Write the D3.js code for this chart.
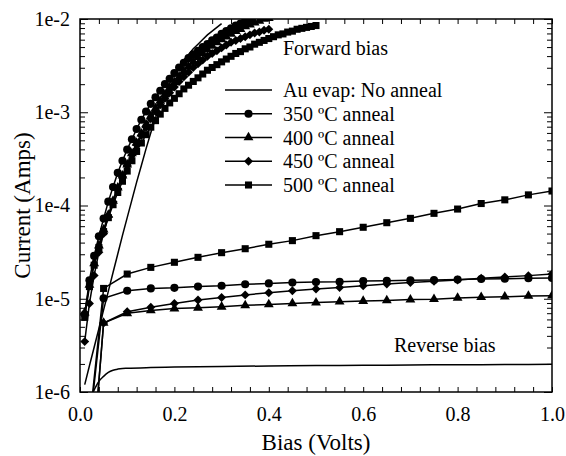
<!DOCTYPE html>
<html>
<head>
<meta charset="utf-8">
<script src="https://cdn.jsdelivr.net/npm/d3@7"></script>
<style>
  body { margin: 0; background: #fff; }
  svg text { font-family: "Liberation Serif", "DejaVu Serif", serif; fill: #000; }
</style>
</head>
<body>
<svg id="iv_plot" width="566" height="456"></svg>
<script>
// Forward bias sweep (Volts)
const fwdBias = [0.01, 0.02, 0.03, 0.04, 0.05, 0.06, 0.07, 0.08, 0.09, 0.10,
    0.11, 0.12, 0.13, 0.14, 0.15, 0.16, 0.17, 0.18, 0.19, 0.20,
    0.21, 0.22, 0.23, 0.24, 0.25, 0.26, 0.27, 0.28, 0.29, 0.30,
    0.31, 0.32, 0.33, 0.34, 0.35, 0.36, 0.37, 0.38, 0.39, 0.40,
    0.41, 0.42, 0.43, 0.44, 0.45, 0.46, 0.47, 0.48, 0.49, 0.50];
// Reverse bias sweep (Volts, magnitude)
const revBias = [0.0, 0.05, 0.10, 0.15, 0.20, 0.25, 0.30, 0.35, 0.40, 0.45, 0.50,
    0.55, 0.60, 0.65, 0.70, 0.75, 0.80, 0.85, 0.90, 0.95, 1.0];
const auRevBias = [0.0, 0.02, 0.03, 0.04, 0.05, 0.06, 0.07, 0.08, 0.09, 0.10,
    0.15, 0.20, 0.30, 0.40, 0.50, 0.60, 0.70, 0.80, 0.90, 1.0];

// Currents (Amps)
const auFwd = [1.20e-6, 1.91e-6, 3.02e-6, 4.79e-6, 7.59e-6, 1.20e-5, 1.91e-5, 3.02e-5, 4.79e-5, 7.41e-5,
    1.15e-4, 1.78e-4, 2.69e-4, 4.07e-4, 6.03e-4, 8.71e-4, 1.20e-3, 1.58e-3, 2.04e-3, 2.57e-3,
    3.09e-3, 3.63e-3, 4.17e-3, 4.79e-3, 5.37e-3, 6.03e-3, 6.76e-3, 7.41e-3, 8.13e-3, 8.91e-3];
const auRev = [2e-7, 8e-7, 1.05e-6, 1.3e-6, 1.47e-6, 1.62e-6, 1.71e-6, 1.76e-6, 1.79e-6, 1.80e-6,
    1.83e-6, 1.85e-6, 1.88e-6, 1.90e-6, 1.92e-6, 1.93e-6, 1.95e-6, 1.96e-6, 1.97e-6, 1.98e-6];

const fwd350 = [6.8e-6, 1.58e-5, 2.88e-5, 4.68e-5, 7.24e-5, 1.10e-4, 1.58e-4, 2.24e-4, 3.02e-4, 3.98e-4,
    5.13e-4, 6.61e-4, 8.32e-4, 1.02e-3, 1.23e-3, 1.45e-3, 1.70e-3, 2.00e-3, 2.29e-3, 2.63e-3,
    3.02e-3, 3.39e-3, 3.80e-3, 4.17e-3, 4.57e-3, 5.01e-3, 5.37e-3, 5.89e-3, 6.31e-3, 6.92e-3,
    7.41e-3, 7.94e-3, 8.51e-3, 8.91e-3, 9.55e-3, 1.0e-2];
const fwd400 = [7.1e-6, 1.41e-5, 2.40e-5, 3.72e-5, 5.50e-5, 7.94e-5, 1.12e-4, 1.55e-4, 2.09e-4, 2.75e-4,
    3.63e-4, 4.68e-4, 5.89e-4, 7.41e-4, 9.12e-4, 1.10e-3, 1.32e-3, 1.55e-3, 1.82e-3, 2.09e-3,
    2.40e-3, 2.75e-3, 3.09e-3, 3.47e-3, 3.89e-3, 4.27e-3, 4.68e-3, 5.13e-3, 5.62e-3, 6.03e-3,
    6.46e-3, 6.92e-3, 7.41e-3, 7.76e-3, 8.32e-3, 8.71e-3, 9.12e-3, 9.55e-3, 1.0e-2, 1.02e-2];
const fwd450 = [3.47e-6, 8.91e-6, 1.78e-5, 3.16e-5, 5.01e-5, 7.59e-5, 1.10e-4, 1.51e-4, 2.04e-4, 2.69e-4,
    3.47e-4, 4.47e-4, 5.62e-4, 6.92e-4, 8.51e-4, 1.02e-3, 1.20e-3, 1.41e-3, 1.62e-3, 1.86e-3,
    2.14e-3, 2.40e-3, 2.69e-3, 3.02e-3, 3.31e-3, 3.63e-3, 3.98e-3, 4.27e-3, 4.57e-3, 4.90e-3,
    5.25e-3, 5.62e-3, 5.89e-3, 6.17e-3, 6.46e-3, 6.76e-3, 7.08e-3, 7.24e-3, 7.59e-3, 7.76e-3];
const fwd500 = [6.31e-6, 1.35e-5, 2.29e-5, 3.55e-5, 5.25e-5, 7.41e-5, 1.02e-4, 1.38e-4, 1.82e-4, 2.34e-4,
    3.02e-4, 3.80e-4, 4.68e-4, 5.75e-4, 6.92e-4, 8.13e-4, 9.55e-4, 1.10e-3, 1.26e-3, 1.41e-3,
    1.58e-3, 1.78e-3, 1.95e-3, 2.14e-3, 2.34e-3, 2.57e-3, 2.82e-3, 3.02e-3, 3.24e-3, 3.47e-3,
    3.72e-3, 3.98e-3, 4.27e-3, 4.47e-3, 4.79e-3, 5.01e-3, 5.37e-3, 5.62e-3, 5.89e-3, 6.17e-3,
    6.46e-3, 6.76e-3, 6.92e-3, 7.24e-3, 7.41e-3, 7.76e-3, 7.94e-3, 8.13e-3, 8.32e-3, 8.51e-3];

const rev350 = [5e-8, 1.01e-5, 1.22e-5, 1.29e-5, 1.31e-5, 1.35e-5, 1.38e-5, 1.43e-5, 1.46e-5, 1.49e-5, 1.51e-5,
    1.52e-5, 1.55e-5, 1.56e-5, 1.58e-5, 1.59e-5, 1.61e-5, 1.63e-5, 1.64e-5, 1.66e-5, 1.67e-5];
const rev400 = [4e-9, 5.5e-6, 6.98e-6, 7.5e-6, 7.85e-6, 8.0e-6, 8.2e-6, 8.5e-6, 8.7e-6, 8.9e-6, 9.1e-6,
    9.3e-6, 9.45e-6, 9.6e-6, 9.8e-6, 9.9e-6, 1.02e-5, 1.04e-5, 1.05e-5, 1.07e-5, 1.08e-5];
const rev450 = [4e-9, 5.5e-6, 7.26e-6, 8.1e-6, 8.9e-6, 9.7e-6, 1.03e-5, 1.10e-5, 1.16e-5, 1.22e-5, 1.27e-5,
    1.32e-5, 1.38e-5, 1.44e-5, 1.49e-5, 1.54e-5, 1.59e-5, 1.66e-5, 1.71e-5, 1.77e-5, 1.84e-5];
const rev500 = [5e-8, 1.29e-5, 1.84e-5, 2.17e-5, 2.46e-5, 2.78e-5, 3.12e-5, 3.44e-5, 3.84e-5, 4.20e-5, 4.75e-5,
    5.24e-5, 5.84e-5, 6.54e-5, 7.28e-5, 8.24e-5, 9.16e-5, 1.05e-4, 1.15e-4, 1.30e-4, 1.43e-4];

const legendLabels = ['Au evap: No anneal', '350 \u00baC anneal', '400 \u00baC anneal', '450 \u00baC anneal', '500 \u00baC anneal'];
const legendMarkers = [null, 'circle', 'triangle', 'diamond', 'square'];
const yTickLabels = ['1e-6', '1e-5', '1e-4', '1e-3', '1e-2'];
const xTickLabels = ['0.0', '0.2', '0.4', '0.6', '0.8', '1.0'];

// Layout
const serif = '"Liberation Serif", "DejaVu Serif", serif';
let svg = d3.select('#iv_plot');
const margin = { top: 19, bottom: 64, right: 14, left: 80 };
const width = 566, height = 456;
const innerWidth = width - margin.left - margin.right;
const innerHeight = height - margin.top - margin.bottom;

let g = svg.append('g').attr('transform', `translate(${margin.left},${margin.top})`);

let xScale = d3.scaleLinear().domain([0, 1]).range([0, innerWidth]);
let yScale = d3.scaleLog().domain([1e-6, 1e-2]).range([innerHeight, 0]);

svg.append('defs').append('clipPath').attr('id', 'plot-clip')
    .append('rect').attr('width', innerWidth).attr('height', innerHeight);

// symbols for each series (diamond = rotated square)
const symbolType = {
    circle: d3.symbolCircle,
    triangle: d3.symbolTriangle,
    diamond: d3.symbolSquare,
    square: d3.symbolSquare
};
const symbolSize = { circle: 52, triangle: 42, diamond: 40, square: 50 };

function markerPath(kind) {
    return d3.symbol().type(symbolType[kind]).size(symbolSize[kind])();
}

// Axes: ticks point inward on all four sides
const yMajor = [1e-6, 1e-5, 1e-4, 1e-3, 1e-2];
let yMinor = [];
yMajor.slice(0, 4).forEach(d => { for (let k = 2; k <= 9; k++) yMinor.push(d * k); });
const xTicks = d3.range(0, 26).map(i => i * 0.04);

let axisG = g.append('g').attr('id', 'axis-g');
axisG.append('g').call(d3.axisLeft(yScale).tickValues(yMinor).tickSize(-5).tickFormat(''))
    .call(a => a.select('.domain').remove());
axisG.append('g').call(d3.axisRight(yScale).tickValues(yMinor).tickSize(-5).tickFormat(''))
    .attr('transform', `translate(${innerWidth},0)`)
    .call(a => a.select('.domain').remove());
axisG.append('g').call(d3.axisLeft(yScale).tickValues(yMajor).tickSize(-8).tickPadding(10)
        .tickFormat((d, i) => yTickLabels[i]))
    .attr('font-size', 20)
    .attr('font-family', serif)
    .call(a => a.select('.domain').remove());
axisG.append('g').call(d3.axisRight(yScale).tickValues(yMajor).tickSize(-8).tickFormat(''))
    .attr('transform', `translate(${innerWidth},0)`)
    .call(a => a.select('.domain').remove());
axisG.append('g').call(d3.axisBottom(xScale).tickValues(xTicks).tickSize(-5)
        .tickPadding(15)
        .tickFormat(d => {
            let i = Math.round(d / 0.2);
            return Math.abs(d - i * 0.2) < 1e-6 ? xTickLabels[i] : '';
        }))
    .attr('transform', `translate(0,${innerHeight})`)
    .attr('font-size', 20)
    .attr('font-family', serif)
    .call(a => a.select('.domain').remove());
axisG.append('g').call(d3.axisTop(xScale).tickValues(xTicks).tickSize(-5).tickFormat(''))
    .call(a => a.select('.domain').remove());
axisG.selectAll('.tick line').style('stroke', '#000').style('stroke-width', 1);
axisG.selectAll('.tick text').style('fill', '#000');

axisG.append('rect')
    .attr('width', innerWidth)
    .attr('height', innerHeight)
    .style('stroke', 'black')
    .style('stroke-width', 1.5)
    .style('fill', 'none');

// Series
const series = [
    { x: fwdBias, y: auFwd, marker: null },
    { x: auRevBias, y: auRev, marker: null, smooth: true },
    { x: revBias, y: rev400, marker: 'triangle' },
    { x: revBias, y: rev450, marker: 'diamond' },
    { x: revBias, y: rev350, marker: 'circle' },
    { x: revBias, y: rev500, marker: 'square' },
    { x: fwdBias, y: fwd500, marker: 'square' },
    { x: fwdBias, y: fwd450, marker: 'diamond' },
    { x: fwdBias, y: fwd400, marker: 'triangle' },
    { x: fwdBias, y: fwd350, marker: 'circle' }
];

let plotG = g.append('g').attr('clip-path', 'url(#plot-clip)');

series.forEach(s => {
    let pts = s.y.map((v, i) => [s.x[i], v]);
    let line = d3.line()
        .x(d => xScale(d[0]))
        .y(d => yScale(d[1]))
        .curve(s.smooth ? d3.curveMonotoneX : d3.curveLinear);
    plotG.append('path')
        .datum(pts)
        .attr('d', line)
        .style('fill', 'none')
        .style('stroke', 'black')
        .style('stroke-width', 1.5);
    if (s.marker) {
        plotG.selectAll(null)
            .data(pts.filter(d => d[1] >= 1e-6))
            .join('path')
            .attr('d', markerPath(s.marker))
            .attr('transform', d => `translate(${xScale(d[0])},${yScale(d[1])})` +
                (s.marker === 'diamond' ? ' rotate(45)' : ''))
            .style('fill', 'black');
    }
});

// Legend
let legendG = g.append('g').attr('transform', 'translate(145,71)');
legendLabels.forEach((label, i) => {
    let row = legendG.append('g').attr('transform', `translate(0,${i * 23.75})`);
    row.append('line')
        .attr('x1', 0).attr('x2', 47)
        .style('stroke', 'black')
        .style('stroke-width', 1.5);
    if (legendMarkers[i]) {
        row.append('path')
            .attr('d', markerPath(legendMarkers[i]))
            .attr('transform', `translate(23.5,0)` + (legendMarkers[i] === 'diamond' ? ' rotate(45)' : ''))
            .style('fill', 'black');
    }
    row.append('text')
        .attr('x', 58)
        .attr('y', 7)
        .attr('font-family', serif)
        .attr('font-size', 20)
        .text(label);
});

// Annotations
g.append('text').attr('x', 203).attr('y', 36)
    .attr('font-family', serif).attr('font-size', 20).text('Forward bias');
g.append('text').attr('x', 314).attr('y', 333)
    .attr('font-family', serif).attr('font-size', 20).text('Reverse bias');

// Axis titles
svg.append('text')
    .attr('x', margin.left + innerWidth / 2)
    .attr('y', 450)
    .attr('text-anchor', 'middle')
    .attr('font-family', serif)
    .attr('font-size', 23)
    .text('Bias (Volts)');
svg.append('text')
    .attr('transform', `translate(30,${margin.top + innerHeight / 2}) rotate(-90)`)
    .attr('text-anchor', 'middle')
    .attr('font-family', serif)
    .attr('font-size', 23)
    .text('Current (Amps)');
</script>
</body>
</html>
